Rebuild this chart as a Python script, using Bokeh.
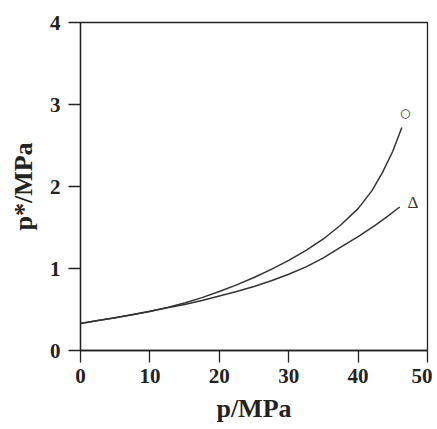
from bokeh.plotting import figure
from bokeh.models import Range1d, FixedTicker
from bokeh.core.properties import value
from bokeh.embed import file_html
from bokeh.resources import INLINE

# data
p_upper = [0, 2.5, 5, 7.5, 10, 12.5, 15, 17.5, 20, 22.5, 25, 27.5, 30, 32.5, 35, 37.5, 40, 42, 43.5, 45, 46.3]
ps_upper = [0.33, 0.365, 0.40, 0.435, 0.475, 0.525, 0.58, 0.645, 0.72, 0.80, 0.89, 0.99, 1.10, 1.22, 1.36, 1.53, 1.73, 1.95, 2.17, 2.43, 2.72]
p_lower = [0, 2.5, 5, 7.5, 10, 12.5, 15, 17.5, 20, 22.5, 25, 27.5, 30, 32.5, 35, 37.5, 40, 42.5, 44, 46]
ps_lower = [0.33, 0.365, 0.40, 0.44, 0.48, 0.52, 0.56, 0.61, 0.665, 0.72, 0.78, 0.85, 0.93, 1.02, 1.13, 1.26, 1.39, 1.53, 1.62, 1.75]

x_ticks = [0, 10, 20, 30, 40, 50]
y_ticks = [0, 1, 2, 3, 4]
circle_label = ("\u25cb", 46.8, 2.90)
tri_label = ("\u0394", 47.9, 1.80)

FONT = "Liberation Serif"
INK = "#222222"

p = figure(width=432, height=425, output_backend="svg", toolbar_location=None,
           x_range=Range1d(0, 50), y_range=Range1d(0, 4),
           min_border_left=80, min_border_right=5, min_border_top=22, min_border_bottom=66)
p.xgrid.visible = False
p.ygrid.visible = False
p.outline_line_color = INK
p.outline_line_width = 1.3

for ax, ticks in ((p.xaxis[0], x_ticks), (p.yaxis[0], y_ticks)):
    ax.ticker = FixedTicker(ticks=ticks)
    ax.minor_tick_line_color = None
    ax.major_tick_in = 0
    ax.major_tick_out = 12
    ax.axis_line_color = INK
    ax.axis_line_width = 1.3
    ax.major_tick_line_color = INK
    ax.major_tick_line_width = 1.3
    ax.major_label_text_font = FONT
    ax.major_label_text_font_style = "bold"
    ax.major_label_text_font_size = "21px"
    ax.major_label_text_color = INK
    ax.axis_label_text_font = FONT
    ax.axis_label_text_font_style = "bold"
    ax.axis_label_text_font_size = "26px"
    ax.axis_label_text_color = INK

p.yaxis.major_label_standoff = 8
p.xaxis.major_label_standoff = 6
p.xaxis.axis_label = "p/MPa"
p.xaxis.axis_label_standoff = 8
p.yaxis.axis_label = "p*/MPa"
p.yaxis.axis_label_standoff = 9

p.line(p_upper, ps_upper, line_color="#333333", line_width=1.5)
p.line(p_lower, ps_lower, line_color="#333333", line_width=1.5)

p.text(x=[circle_label[1]], y=[circle_label[2]], text=[circle_label[0]],
       text_font=value("DejaVu Sans"), text_font_size="12px", text_color="#222222",
       text_align="center", text_baseline="middle")
p.text(x=[tri_label[1]], y=[tri_label[2]], text=[tri_label[0]],
       text_font=value(FONT), text_font_size="17px", text_color="#333333",
       text_align="center", text_baseline="middle")

open("out.html", "w").write(file_html(p, INLINE))
